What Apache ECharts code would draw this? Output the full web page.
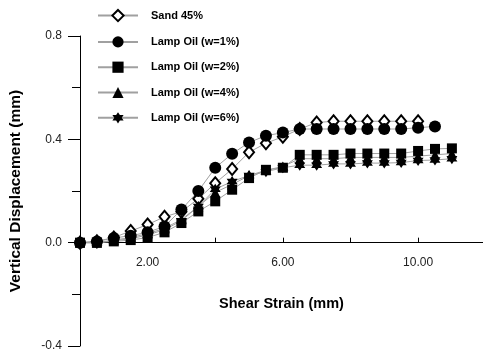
<!DOCTYPE html>
<html>
<head>
<meta charset="utf-8">
<script src="https://cdn.jsdelivr.net/npm/echarts@6/dist/echarts.min.js"></script>
<style>
  html, body { margin: 0; padding: 0; background: #fff; }
  #chart { width: 483px; height: 360px; }
</style>
</head>
<body>
<div id="chart"></div>
<script>
  // shear strain steps (mm)
  var strainSteps = [0, 0.5, 1, 1.5, 2, 2.5, 3, 3.5, 4, 4.5, 5, 5.5, 6, 6.5, 7, 7.5, 8, 8.5, 9, 9.5, 10, 10.5, 11];

  var sand45 = [0, 0.005, 0.02, 0.045, 0.07, 0.1, 0.12, 0.17, 0.23, 0.285, 0.35, 0.385, 0.41, 0.44, 0.465, 0.47, 0.47, 0.47, 0.47, 0.47, 0.47];
  var oil1 = [0, 0.005, 0.018, 0.027, 0.04, 0.063, 0.128, 0.2, 0.29, 0.344, 0.388, 0.414, 0.426, 0.44, 0.44, 0.44, 0.44, 0.44, 0.44, 0.44, 0.445, 0.45];
  var oil2 = [0, 0, 0.005, 0.01, 0.02, 0.04, 0.076, 0.121, 0.16, 0.205, 0.25, 0.282, 0.29, 0.34, 0.34, 0.34, 0.345, 0.345, 0.345, 0.345, 0.355, 0.363, 0.365];
  var oil4 = [0, 0, 0.01, 0.02, 0.035, 0.055, 0.09, 0.14, 0.195, 0.225, 0.26, 0.28, 0.295, 0.325, 0.325, 0.325, 0.33, 0.33, 0.33, 0.33, 0.335, 0.34, 0.345];
  var oil6 = [0, 0, 0.008, 0.015, 0.03, 0.05, 0.085, 0.14, 0.207, 0.237, 0.26, 0.275, 0.29, 0.3, 0.3, 0.305, 0.305, 0.308, 0.308, 0.31, 0.318, 0.32, 0.325];

  var seriesNames = ['Sand 45%', 'Lamp Oil (w=1%)', 'Lamp Oil (w=2%)', 'Lamp Oil (w=4%)', 'Lamp Oil (w=6%)'];
  var xLabelsShown = [2, 6, 10];

  var starPath = 'path://M0,-10 L2.89,-5 L8.66,-5 L5.77,0 L8.66,5 L2.89,5 L0,10 L-2.89,5 L-8.66,5 L-5.77,0 L-8.66,-5 L-2.89,-5 Z';

  // plot box, y range -0.4..0.8, x axis drawn at y = 0
  var gridTop = 36, gridH = 310;
  var zeroLift = gridH * 0.4 / 1.2;

  function pairs(vals) {
    return vals.map(function (v, i) { return [strainSteps[i], v]; });
  }

  function mkSeries(name, vals, symbol, size, itemStyle) {
    return {
      name: name,
      type: 'line',
      data: pairs(vals),
      symbol: symbol,
      symbolSize: size,
      showAllSymbol: true,
      lineStyle: {color: '#a0a0a0', width: 1},
      itemStyle: itemStyle || {color: '#000'},
      emphasis: {disabled: true},
      z: 2
    };
  }

  var myChart = echarts.init(document.getElementById('chart'));
  var option = {
    animation: false,
    backgroundColor: '#fff',
    legend: {
      orient: 'vertical',
      left: 92,
      top: 4,
      itemWidth: 40,
      itemHeight: 14,
      itemGap: 14.1,
      textStyle: {
        fontFamily: 'Liberation Sans, Arial, sans-serif',
        fontWeight: 'bold',
        fontSize: 11,
        color: '#000',
        padding: [0, 0, 0, 8]
      },
      data: seriesNames
    },
    grid: {
      left: 80,
      top: gridTop,
      width: 403,
      height: gridH,
      outerBoundsMode: 'none'
    },
    xAxis: {
      type: 'value',
      min: 0,
      max: 11.92,
      interval: 2,
      offset: -zeroLift,
      name: 'Shear Strain (mm)',
      nameLocation: 'middle',
      nameGap: 54,
      nameTextStyle: {
        fontFamily: 'Liberation Sans, Arial, sans-serif',
        fontWeight: 'bold',
        fontSize: 14.5,
        color: '#000'
      },
      axisLine: {onZero: false, lineStyle: {color: '#000', width: 1}},
      axisTick: {show: true, inside: true, length: 5, lineStyle: {color: '#000'}},
      axisLabel: {
        show: true,
        margin: 14,
        fontFamily: 'Liberation Sans, Arial, sans-serif',
        fontSize: 12,
        color: '#222',
        formatter: function (v) {
          return xLabelsShown.indexOf(v) >= 0 ? v.toFixed(2) : '';
        }
      },
      splitLine: {show: false}
    },
    yAxis: {
      type: 'value',
      min: -0.4,
      max: 0.8,
      interval: 0.4,
      name: 'Vertical Displacement (mm)',
      nameLocation: 'middle',
      nameGap: 56,
      nameTextStyle: {
        fontFamily: 'Liberation Sans, Arial, sans-serif',
        fontWeight: 'bold',
        fontSize: 15.5,
        color: '#000'
      },
      axisLine: {show: true, lineStyle: {color: '#000', width: 1}},
      axisTick: {show: true, length: 12, lineStyle: {color: '#000'}},
      minorTick: {show: true, splitNumber: 2, length: 8, lineStyle: {color: '#000'}},
      axisLabel: {
        margin: 18,
        fontFamily: 'Liberation Sans, Arial, sans-serif',
        fontSize: 12,
        color: '#222',
        formatter: function (v) { return v.toFixed(1); }
      },
      splitLine: {show: false}
    },
    series: [
      mkSeries(seriesNames[0], sand45, 'diamond', [10, 12], {color: '#fff', borderColor: '#000', borderWidth: 2}),
      mkSeries(seriesNames[1], oil1, 'circle', 12),
      mkSeries(seriesNames[2], oil2, 'rect', 10),
      mkSeries(seriesNames[3], oil4, 'triangle', 10),
      mkSeries(seriesNames[4], oil6, starPath, 11)
    ]
  };
  myChart.setOption(option, true);
</script>
</body>
</html>
